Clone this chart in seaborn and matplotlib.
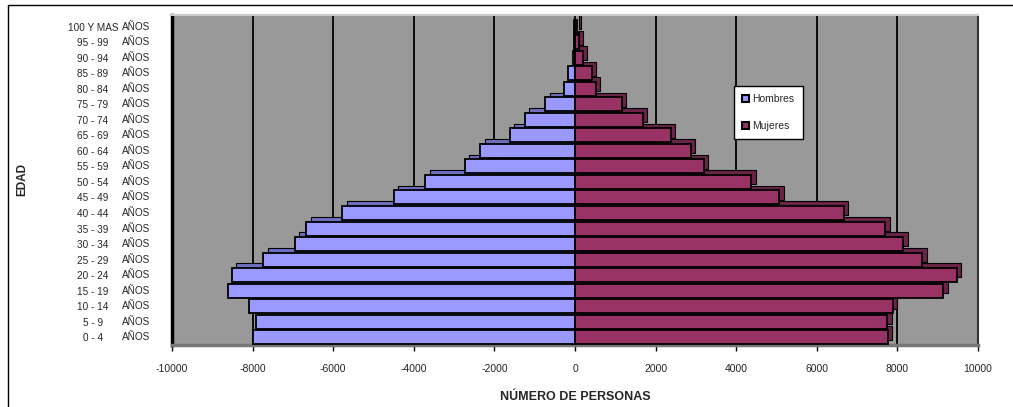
import matplotlib
matplotlib.use("Agg")
import matplotlib.pyplot as plt
import matplotlib.transforms as mtransforms
from matplotlib.lines import Line2D
import numpy as np
import pandas as pd
import seaborn as sns

# Age groups from youngest (bottom) to oldest (top)
grupos = ["0 - 4", "5 - 9", "10 - 14", "15 - 19", "20 - 24", "25 - 29", "30 - 34",
          "35 - 39", "40 - 44", "45 - 49", "50 - 54", "55 - 59", "60 - 64", "65 - 69",
          "70 - 74", "75 - 79", "80 - 84", "85 - 89", "90 - 94", "95 - 99", "100 Y MAS"]
hombres = [-8000, -7910, -8080, -8610, -8520, -7740, -6960, -6670, -5770, -4500,
           -3710, -2740, -2350, -1620, -1250, -740, -280, -170, -60, -30, -15]
mujeres = [7760, 7750, 7890, 9140, 9470, 8620, 8150, 7700, 6670, 5070,
           4370, 3200, 2870, 2380, 1680, 1160, 520, 410, 190, 100, 50]
xticks = list(range(-10000, 10001, 2000))

sns.set_theme(style="white")
plt.rcParams["font.family"] = ["Liberation Sans", "DejaVu Sans"]

df = pd.DataFrame({
    "grupo": grupos * 2,
    "sexo": ["Hombres"] * len(grupos) + ["Mujeres"] * len(grupos),
    "valor": hombres + mujeres,
})

fig = plt.figure(figsize=(10.13, 4.07), dpi=100)
ax = fig.add_axes([172 / 1013, 1 - 345 / 407, 806 / 1013, 330 / 407])
ax.set_facecolor("#999999")

orden = grupos[::-1]
colores = {"Hombres": "#9999FF", "Mujeres": "#993366"}
sns.barplot(data=df, y="grupo", x="valor", hue="sexo", order=orden,
            hue_order=["Hombres", "Mujeres"], palette=colores, orient="h",
            dodge=False, width=0.9, edgecolor="black", linewidth=1.3,
            saturation=1, ax=ax, zorder=3)

# depth faces behind each bar (extruded look)
pos = np.array([orden.index(g) for g in grupos], dtype=float)
dx, dy = 110, 0.3
ax.barh(pos - dy, np.array(hombres), left=dx, height=0.9, color="#6F6FC0",
        edgecolor="black", linewidth=0.8, zorder=2)
ax.barh(pos - dy, np.array(mujeres), left=dx, height=0.9, color="#6B2347",
        edgecolor="black", linewidth=0.8, zorder=2)

ax.set_xlim(-10000, 10000)
ax.set_ylim(len(grupos) - 0.5, -0.75)
ax.set_xticks(xticks)
ax.set_xticklabels([str(t) for t in xticks], fontsize=7.5)
ax.xaxis.grid(True, color="black", linewidth=1.3, zorder=0)
ax.set_axisbelow(True)
ax.tick_params(axis="x", direction="out", length=4, width=1, color="black", pad=10,
               bottom=True)

ax.set_yticks(range(len(orden)))
ax.set_yticklabels(orden, fontsize=7.2)
for lab in ax.get_yticklabels():
    lab.set_horizontalalignment("center")
ax.tick_params(axis="y", length=0, pad=57)
trans = mtransforms.blended_transform_factory(ax.transAxes, ax.transData)
for i in range(len(orden)):
    ax.text(-0.062, i, "AÑOS", transform=trans, fontsize=7.2, ha="left", va="center")

ax.set_ylabel("EDAD", fontsize=8.5, fontweight="bold", labelpad=0)
ax.yaxis.set_label_coords(-0.178, 0.5)
ax.set_xlabel("NÚMERO DE PERSONAS", fontsize=9, fontweight="bold", labelpad=12)

for side, col, lw in [("left", "black", 2.5), ("right", "#333333", 1.5),
                      ("top", "#CCCCCC", 1.5), ("bottom", "#777777", 2.5)]:
    ax.spines[side].set_visible(True)
    ax.spines[side].set_color(col)
    ax.spines[side].set_linewidth(lw)

leg = ax.legend(loc="upper left", bbox_to_anchor=(0.697, 0.785), fontsize=7.5,
                frameon=True, fancybox=False, edgecolor="black", framealpha=1,
                handlelength=0.7, handleheight=0.7, labelspacing=1.6,
                handletextpad=0.3, borderpad=0.8, borderaxespad=0)
leg.get_frame().set_linewidth(1)
for h in leg.legend_handles:
    h.set_edgecolor("black")
    h.set_linewidth(1.5)

# outer frame lines
fig.add_artist(Line2D([8 / 1013, 8 / 1013], [0, 1 - 5 / 407], color="black",
                      linewidth=1, transform=fig.transFigure))
fig.add_artist(Line2D([8 / 1013, 1], [1 - 5 / 407, 1 - 5 / 407], color="black",
                      linewidth=1, transform=fig.transFigure))

fig.savefig("out.png", dpi=100, facecolor="white")
